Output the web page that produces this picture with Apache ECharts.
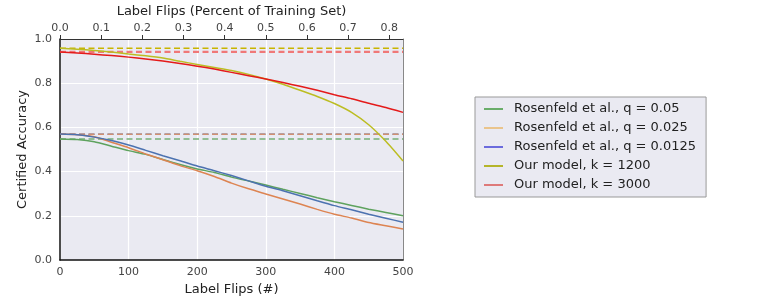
<!DOCTYPE html>
<html><head><meta charset="utf-8">
<script src="https://cdn.jsdelivr.net/npm/echarts@6/dist/echarts.min.js"></script>
<style>html,body{margin:0;padding:0;background:#fff}#c{width:761px;height:301px}</style>
</head><body><div id="c"></div>
<script>
const flips = [0,25,50,75,100,125,150,175,200,225,250,275,300,325,350,375,400,425,450,475,500];
const seriesNames = ['Rosenfeld et al., q = 0.05','Rosenfeld et al., q = 0.025','Rosenfeld et al., q = 0.0125','Our model, k = 1200','Our model, k = 3000'];
const rosen005  = [0.548,0.545,0.535,0.515,0.495,0.478,0.455,0.432,0.412,0.396,0.375,0.357,0.339,0.320,0.301,0.282,0.264,0.247,0.230,0.215,0.200];
const rosen0025 = [0.570,0.567,0.558,0.533,0.508,0.480,0.454,0.427,0.404,0.378,0.348,0.322,0.299,0.276,0.253,0.229,0.207,0.190,0.170,0.155,0.140];
const rosen00125= [0.570,0.567,0.556,0.541,0.520,0.496,0.472,0.449,0.425,0.404,0.382,0.358,0.334,0.313,0.291,0.268,0.246,0.227,0.207,0.189,0.171];
const our1200   = [0.958,0.954,0.948,0.941,0.932,0.924,0.914,0.899,0.885,0.871,0.857,0.840,0.819,0.795,0.768,0.740,0.708,0.668,0.612,0.537,0.448];
const our3000   = [0.941,0.937,0.931,0.925,0.918,0.910,0.900,0.889,0.877,0.864,0.849,0.834,0.819,0.803,0.786,0.768,0.748,0.730,0.709,0.690,0.668];
// clean (zero-flip) accuracies drawn as dashed reference lines
const cleanAcc = [0.548,0.569,0.569,0.958,0.942];
const trainingSetSize = 60000;

const lineColors = ['#5ea25e','#dd8452','#4c72b0','#bcbd22','#e41a1a'];
const dashColors = ['#76b076','#d39070','#4c72b0','#c8b400','#f07878'];
const legendColors = ['#6aad6a','#eac48c','#6b6bdd','#b5b52a','#de7a7a'];
const dashOrder = [2,0,1,4,3];

const font = 'DejaVu Sans';
const series = [];
dashOrder.forEach(i => {
  series.push({
    name: 'clean-' + i, type: 'line', xAxisIndex: 0, yAxisIndex: 0,
    data: [[flips[0], cleanAcc[i]], [flips[flips.length-1], cleanAcc[i]]],
    symbol: 'none', silent: true,
    lineStyle: {color: dashColors[i], width: i === 4 ? 2.2 : 1.5, type: [6,3.5]},
    z: 2
  });
});
const vals = [rosen005, rosen0025, rosen00125, our1200, our3000];
vals.forEach((v, i) => {
  series.push({
    name: seriesNames[i], type: 'line', xAxisIndex: 0, yAxisIndex: 0,
    data: flips.map((f, j) => [f, v[j]]),
    symbol: 'none', smooth: 0.2,
    lineStyle: {color: lineColors[i], width: 1.5},
    itemStyle: {color: legendColors[i]},
    z: 3
  });
});

const chart = echarts.init(document.getElementById('c'), null, {renderer: 'canvas'});
chart.setOption({
  backgroundColor: '#ffffff',
  animation: false,
  textStyle: {fontFamily: font},
  grid: {left: 60, right: 358, top: 39, bottom: 41, show: true, backgroundColor: '#EAEAF2', borderWidth: 0},
  xAxis: [{
    type: 'value', position: 'bottom', min: 0, max: 500, interval: 100,
    name: 'Label Flips (#)', nameLocation: 'middle', nameGap: 22,
    nameTextStyle: {fontSize: 13, color: '#222', fontFamily: font},
    axisLine: {show: true, lineStyle: {color: '#111', width: 1.5}},
    axisTick: {show: false},
    axisLabel: {fontSize: 11, color: '#444', margin: 7, fontFamily: font},
    splitLine: {show: true, lineStyle: {color: '#ffffff', width: 1.2}}
  }, {
    type: 'value', position: 'top', min: 0, max: 500 / trainingSetSize * 100, interval: 0.1,
    name: 'Label Flips (Percent of Training Set)', nameLocation: 'middle', nameGap: 21,
    nameTextStyle: {fontSize: 13, color: '#222', fontFamily: font},
    axisLine: {show: true, onZero: false, lineStyle: {color: '#333', width: 1}},
    axisTick: {show: true, inside: false, length: 4, lineStyle: {color: '#333'}},
    axisLabel: {fontSize: 11, color: '#444', margin: 5, fontFamily: font, showMaxLabel: false,
      formatter: v => v.toFixed(1)},
    splitLine: {show: false}
  }],
  yAxis: [{
    type: 'value', min: 0, max: 1, interval: 0.2,
    name: 'Certified Accuracy', nameLocation: 'middle', nameGap: 31,
    nameTextStyle: {fontSize: 13, color: '#222', fontFamily: font},
    axisLine: {show: true, lineStyle: {color: '#111', width: 1.5}},
    axisTick: {show: false},
    axisLabel: {fontSize: 11, color: '#444', margin: 8, fontFamily: font, formatter: v => v.toFixed(1)},
    splitLine: {show: true, lineStyle: {color: '#ffffff', width: 1.2}}
  }, {
    type: 'value', position: 'right', min: 0, max: 1,
    axisLine: {show: true, onZero: false, lineStyle: {color: '#888', width: 1}},
    axisTick: {show: false}, axisLabel: {show: false}, splitLine: {show: false}
  }],
  legend: {
    orient: 'vertical', left: 475, top: 97,
    backgroundColor: '#EAEAF2', borderColor: '#999', borderWidth: 1, borderRadius: 0,
    padding: [4, 10, 4, 9], itemGap: 3,
    icon: 'rect', itemWidth: 19, itemHeight: 2,
    textStyle: {fontSize: 13, color: '#222', fontFamily: font, padding: [0, 0, 0, 6], lineHeight: 16},
    data: seriesNames.map((n, i) => ({name: n, itemStyle: {color: legendColors[i]}}))
  },
  series: series
});
</script></body></html>
